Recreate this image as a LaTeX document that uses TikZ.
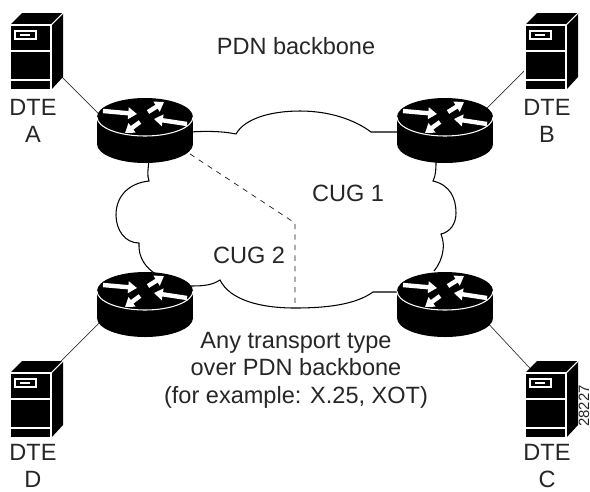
\documentclass[tikz,border=0pt]{standalone}
\usepackage{fontspec}
\setmainfont{Liberation Sans}
\usetikzlibrary{arrows.meta}
\tikzset{
    routerarrow/.style={white, line width=2.5pt, -{Triangle[length=5pt,width=6.5pt]}},
    rimline/.style={white, line width=.6pt},
    cloudline/.style={line width=.6pt},
    labeltext/.style={font=\fontsize{13.4}{15.6}\selectfont, text=black!85, align=center, inner sep=0pt},
    router/.pic={
        \fill (0,27) ellipse (48 and 19);
        \fill (-48,0) rectangle (48,27);
        \fill (0,0) ellipse (48 and 19);
        \draw[rimline] (-48,0) arc[start angle=180, end angle=0, x radius=48, y radius=19];
        \foreach \xa/\ya/\xb/\yb in {-42/-6/-8/-3, 3/-5/19/-15, 42/7/9/2, -5/5/-20/16}{
            \draw[routerarrow] (\xa,\ya) -- (\xb,\yb);
        }
    },
    server/.pic={
        \fill (0,0) -- (12,-12) -- (53,-12) -- (53,52) -- (41,65) -- (0,65) -- cycle;
        \draw[rimline] (0,0) rectangle (41,65);
        \draw[rimline] (0,26) -- (41,26);
        \draw[rimline] (0,55) -- (41,55);
        \draw[rimline] (41,0) -- (53,-12);
        \draw[rimline] (5,6) rectangle (26,14);
        \draw[rimline] (10,10) -- (20,10);
    }
}

\begin{document}
\begin{tikzpicture}[x=.02cm, y=-.02cm]
\useasboundingbox (0,0) rectangle (590,491);
\foreach \name/\x/\y in {A/145/117, B/445/117, C/445/291, D/145/291}{
    \coordinate (router\name) at (\x,\y);
}
\foreach \name/\x/\y in {A/10/25, B/525/25, C/525/373, D/10/373}{
    \coordinate (dte\name) at (\x,\y);
}
% links sit under the boxes
\coordinate (linkA) at (40,55);
\coordinate (hubA) at (125,140);
\coordinate (linkB) at (535,60);
\coordinate (hubB) at (475,120);
\coordinate (linkC) at (540,379);
\coordinate (hubC) at (470,304);
\coordinate (linkD) at (50,372);
\coordinate (hubD) at (120,302);
\draw[black!80] (linkA) -- (hubA);
\draw[black!80] (linkB) -- (hubB);
\draw[black!80] (linkC) -- (hubC);
\draw[black!80] (linkD) -- (hubD);

% cloud
\draw[cloudline] (190,132) .. controls (205,131) and (222,131) .. (236,134)
    .. controls (245,118) and (272,111) .. (300,111)
    .. controls (330,111) and (355,120) .. (371,132)
    -- (400,132);
\draw[cloudline] (436,160) .. controls (436,168) and (436,175) .. (433,181)
    .. controls (450,185) and (456,198) .. (456,213)
    .. controls (456,224) and (450,232) .. (441,234)
    .. controls (443,240) and (444,245) .. (443,250)
    .. controls (442,258) and (439,265) .. (434,271);
\draw[cloudline] (400,292) -- (373,292)
    .. controls (355,305) and (325,308) .. (295,308)
    .. controls (260,308) and (230,300) .. (220,280)
    .. controls (212,285) and (205,286) .. (190,286);
\draw[cloudline] (157,275) .. controls (146,268) and (138,258) .. (139,243)
    .. controls (125,243) and (116,230) .. (116,215)
    .. controls (116,195) and (130,183) .. (149,181)
    .. controls (147,175) and (148,170) .. (149,160);

% border between the groups
\coordinate (cugtop) at (190,154);
\coordinate (cugmid) at (295,223);
\coordinate (cugend) at (295,308);
\draw[dashed, black!90] (cugtop) -- (cugmid) -- (cugend);

\foreach \name in {A,B,C,D}{
    \pic at (router\name) {router};
    \pic at (dte\name) {server};
}

\node[labeltext] (pdn) at (296,46) {PDN backbone};
\node[labeltext] (cug1) at (348,193) {CUG 1};
\node[labeltext] (cug2) at (249,255) {CUG 2};
\node[labeltext] (transport) at (296,370) {Any transport type\\over PDN backbone\\(for example: X.25, XOT)};
\node[labeltext] (labelA) at (33,121) {DTE\\A};
\node[labeltext] (labelB) at (547,121) {DTE\\B};
\node[labeltext] (labelC) at (547,466) {DTE\\C};
\node[labeltext] (labelD) at (33,466) {DTE\\D};
\node[font=\fontsize{8.5}{10}\selectfont, rotate=90, inner sep=0pt, text=black!85] (fignum) at (584,406) {28227};
\end{tikzpicture}
\end{document}
